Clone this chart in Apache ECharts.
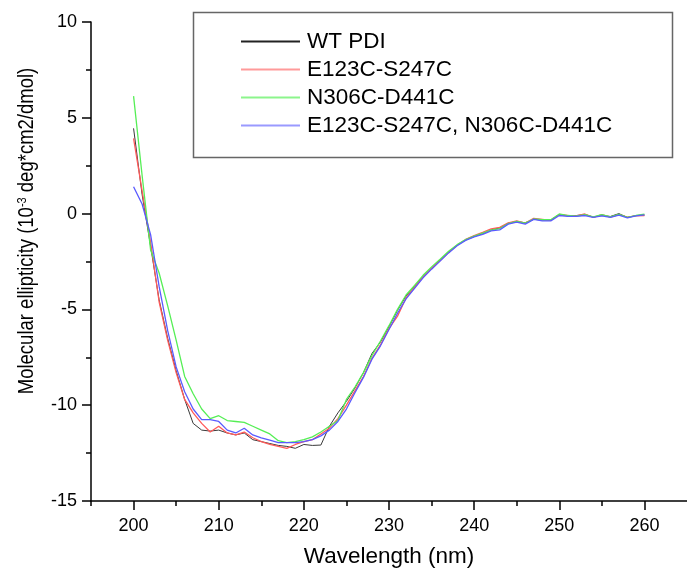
<!DOCTYPE html>
<html>
<head>
<meta charset="utf-8">
<script src="https://cdn.jsdelivr.net/npm/echarts@6/dist/echarts.min.js"></script>
<style>
html, body { margin: 0; padding: 0; background: #fff; }
#container { width: 687px; height: 575px; }
</style>
</head>
<body>
<div id="container"></div>
<script>
var dom = document.getElementById('container');
var myChart = echarts.init(dom, null, { renderer: 'canvas' });
var option;

// wavelength (nm)
const wavelength = [200, 201, 202, 203, 204, 205, 206, 207, 208, 209,
    210, 211, 212, 213, 214, 215, 216, 217, 218, 219,
    220, 221, 222, 223, 224, 225, 226, 227, 228, 229,
    230, 231, 232, 233, 234, 235, 236, 237, 238, 239,
    240, 241, 242, 243, 244, 245, 246, 247, 248, 249,
    250, 251, 252, 253, 254, 255, 256, 257, 258, 259, 260];

const seriesNames = ['WT PDI', 'E123C-S247C', 'N306C-D441C', 'E123C-S247C, N306C-D441C'];

const wtPdi = [4.45, 1.0, -1.7, -4.5, -6.5, -8.2, -9.7, -10.95, -11.3, -11.35,
    -11.3, -11.45, -11.55, -11.45, -11.8, -11.9, -12.0, -12.1, -12.15, -12.25,
    -12.05, -12.1, -12.08, -11.1, -10.4, -9.8, -9.1, -8.3, -7.3, -6.7,
    -5.9, -5.05, -4.3, -3.8, -3.28, -2.85, -2.42, -2.0, -1.65, -1.38,
    -1.2, -1.05, -0.85, -0.75, -0.5, -0.42, -0.48, -0.3, -0.33, -0.33,
    -0.05, -0.12, -0.1, -0.05, -0.18, -0.1, -0.15, 0.0, -0.2, -0.1, -0.08];

const e123c = [3.93, 1.2, -1.5, -4.6, -6.6, -8.3, -9.7, -10.4, -10.95, -11.4,
    -11.1, -11.45, -11.55, -11.4, -11.7, -11.9, -12.05, -12.15, -12.25, -12.05,
    -11.9, -11.8, -11.5, -11.2, -10.7, -10.0, -9.25, -8.5, -7.55, -6.85,
    -6.0, -5.35, -4.4, -3.85, -3.3, -2.85, -2.45, -2.02, -1.65, -1.35,
    -1.15, -0.98, -0.8, -0.72, -0.48, -0.38, -0.5, -0.25, -0.3, -0.35,
    -0.05, -0.1, -0.12, -0.02, -0.2, -0.05, -0.18, -0.05, -0.18, -0.12, -0.1];

const n306c = [6.13, 2.0, -1.9, -3.1, -4.8, -6.6, -8.5, -9.4, -10.2, -10.7,
    -10.55, -10.8, -10.85, -10.9, -11.1, -11.3, -11.5, -11.85, -11.95, -11.9,
    -11.8, -11.65, -11.4, -11.1, -10.8, -9.7, -9.05, -8.3, -7.4, -6.65,
    -5.85, -5.0, -4.25, -3.75, -3.22, -2.78, -2.38, -1.97, -1.62, -1.36,
    -1.18, -1.02, -0.86, -0.78, -0.52, -0.4, -0.5, -0.28, -0.32, -0.32,
    -0.02, -0.1, -0.13, -0.06, -0.17, -0.06, -0.17, -0.04, -0.2, -0.1, -0.03];

const doubleMut = [1.40, 0.5, -1.1, -3.8, -6.1, -8.0, -9.3, -10.2, -10.75, -10.75,
    -10.85, -11.3, -11.45, -11.2, -11.55, -11.7, -11.82, -11.95, -11.95, -11.95,
    -11.9, -11.8, -11.6, -11.3, -10.85, -10.2, -9.35, -8.55, -7.6, -6.9,
    -6.05, -5.2, -4.45, -3.9, -3.35, -2.9, -2.48, -2.05, -1.68, -1.4,
    -1.22, -1.08, -0.9, -0.85, -0.55, -0.45, -0.55, -0.3, -0.38, -0.38,
    -0.1, -0.15, -0.15, -0.1, -0.2, -0.12, -0.2, -0.08, -0.22, -0.12, -0.07];

// tick positions on the x axis
const xMajorTicks = [200, 210, 220, 230, 240, 250, 260];
const xMinorTicks = [195, 205, 215, 225, 235, 245, 255];

const colors = ['#3a3a3a', '#ff5a5a', '#55ee55', '#5a5aff'];
const legendColors = ['#222222', '#ff9a9a', '#8cf58c', '#9a9aff'];
const fontName = 'Liberation Sans, Arial, sans-serif';

function pairs(ys) {
    let out = [];
    for (let i = 0; i < wavelength.length; i++) {
        out.push([wavelength[i], ys[i]]);
    }
    return out;
}

let allData = [wtPdi, e123c, n306c, doubleMut];
let series = [];
let legendData = [];
for (let i = 0; i < allData.length; i++) {
    series.push({
        name: seriesNames[i],
        type: 'line',
        data: pairs(allData[i]),
        symbol: 'none',
        lineStyle: { color: colors[i], width: i === 0 ? 1 : 1.3 },
        itemStyle: { color: colors[i] },
        silent: true,
        animation: false
    });
    legendData.push({
        name: seriesNames[i],
        icon: 'rect',
        itemStyle: { color: legendColors[i], borderWidth: 0 }
    });
}

option = {
    backgroundColor: '#fff',
    animation: false,
    grid: { left: 91, right: 0, top: 22, bottom: 74, containLabel: false },
    legend: {
        orient: 'vertical',
        left: 241,
        top: 30,
        padding: 0,
        itemWidth: 59,
        itemHeight: 2,
        itemGap: 5,
        selectedMode: false,
        data: legendData,
        textStyle: { fontFamily: fontName, fontSize: 22.5, lineHeight: 23, color: '#000', padding: [0, 0, 0, 2] }
    },
    xAxis: [
        {
            type: 'value',
            min: 195,
            max: 265,
            position: 'bottom',
            name: 'Wavelength (nm)',
            nameLocation: 'middle',
            nameGap: 44,
            nameTextStyle: { fontFamily: fontName, fontSize: 22.5, color: '#000' },
            axisLine: { show: true, onZero: false, lineStyle: { color: '#000', width: 1.5 } },
            axisTick: { show: true, inside: false, length: 9, customValues: xMajorTicks, lineStyle: { color: '#000', width: 1.5 } },
            axisLabel: { show: true, margin: 16, customValues: xMajorTicks, fontFamily: fontName, fontSize: 18, color: '#000' },
            splitLine: { show: false }
        },
        {
            // minor ticks only
            type: 'value',
            min: 195,
            max: 265,
            position: 'bottom',
            axisLine: { show: false, onZero: false },
            axisTick: { show: true, inside: false, length: 5, customValues: xMinorTicks, lineStyle: { color: '#000', width: 1.5 } },
            axisLabel: { show: false },
            splitLine: { show: false }
        }
    ],
    yAxis: {
        type: 'value',
        min: -15,
        max: 10,
        interval: 5,
        axisLine: { show: true, onZero: false, lineStyle: { color: '#000', width: 1.5 } },
        axisTick: { show: true, inside: false, length: 9, lineStyle: { color: '#000', width: 1.5 } },
        minorTick: { show: true, splitNumber: 2, length: 5, lineStyle: { color: '#000', width: 1.5 } },
        axisLabel: { margin: 14, fontFamily: fontName, fontSize: 18, color: '#000' },
        splitLine: { show: false }
    },
    graphic: [
        {
            type: 'rect',
            shape: { x: 193.5, y: 12.5, width: 479, height: 145 },
            style: { fill: 'none', stroke: '#666', lineWidth: 1.5 },
            z: 1
        },
        {
            type: 'text',
            x: 27,
            y: 231,
            rotation: Math.PI / 2,
            scaleY: 1.15,
            style: {
                text: 'Molecular ellipticity (10{sup|-3} deg*cm2/dmol)',
                font: '18.5px ' + fontName,
                fill: '#000',
                align: 'center',
                verticalAlign: 'middle',
                rich: {
                    sup: { fontSize: 11, fontFamily: fontName, fill: '#000', padding: [0, 0, 8, 0] }
                }
            }
        }
    ],
    series: series
};

if (option && typeof option === 'object') {
    myChart.setOption(option);
}

window.addEventListener('resize', myChart.resize);
</script>
</body>
</html>
